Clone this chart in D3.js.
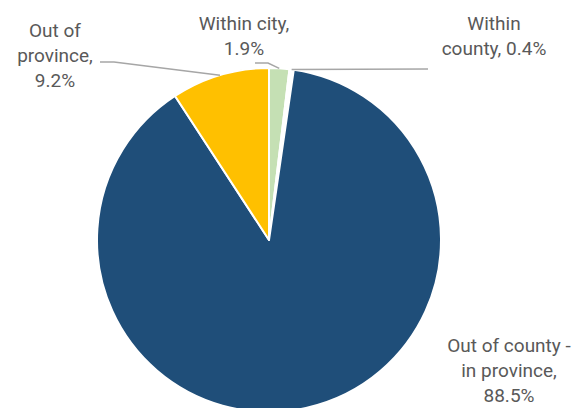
<!DOCTYPE html>
<html>
<head>
<style>
  html, body { margin: 0; background: #fff; }
  svg { display: block; }
  text { font-family: Roboto, sans-serif; font-size: 19px; fill: #595959; }
</style>
<script src="https://d3js.org/d3.v7.js"></script>
</head>
<body>
<svg class="chart"></svg>
<script>
const categories = ['Within city', 'Within county', 'Out of county - in province', 'Out of province'];
const shares = [1.9, 0.4, 88.5, 9.2];
const colors = ['#C5E0B4', '#FFFFFF', '#1F4E79', '#FFC000'];
const labelLines = [
  ['Within city,', '1.9%'],
  ['Within', 'county, 0.4%'],
  ['Out of county -', 'in province,', '88.5%'],
  ['Out of', 'province,', '9.2%']
];

const width = 582;
const height = 408;
const cx = 269, cy = 240, radius = 172;
const lineHeight = 25;

// label centre x, first baseline, and leader line points before the pie edge
const labelLayout = [
  { x: 244, y: 30, leader: [[255, 63], [268, 63]] },
  { x: 494, y: 30, leader: [[428, 69]] },
  { x: 509, y: 352, leader: null },
  { x: 55, y: 37, leader: [[100, 62], [114, 62]] }
];

const svg = d3.select('svg')
  .attr('width', width)
  .attr('height', height);

const pie = d3.pie().sort(null).value(d => d);
const arcs = pie(shares);

const arc = d3.arc().innerRadius(0).outerRadius(radius);
const edge = d3.arc().innerRadius(radius).outerRadius(radius);

const g = svg.append('g').attr('transform', `translate(${cx},${cy})`);

g.selectAll('path')
  .data(arcs)
  .join('path')
  .attr('d', arc)
  .attr('fill', (d, i) => colors[i])
  .attr('stroke', '#fff')
  .attr('stroke-width', 2)
  .attr('stroke-linejoin', 'round');

// leader lines
const line = d3.line();
arcs.forEach((d, i) => {
  const lay = labelLayout[i];
  if (!lay.leader) return;
  const [ex, ey] = edge.centroid(d);
  const pts = lay.leader.concat([[cx + ex, cy + ey]]);
  svg.append('path')
    .attr('d', line(pts))
    .attr('fill', 'none')
    .attr('stroke', '#A6A6A6')
    .attr('stroke-width', 1.5);
});

// labels
svg.selectAll('text.label')
  .data(categories)
  .join('text')
  .attr('class', 'label')
  .attr('text-anchor', 'middle')
  .each(function (d, i) {
    const lay = labelLayout[i];
    d3.select(this).selectAll('tspan')
      .data(labelLines[i])
      .join('tspan')
      .attr('x', lay.x)
      .attr('y', (t, j) => lay.y + j * lineHeight)
      .text(t => t);
  });
</script>
</body>
</html>
